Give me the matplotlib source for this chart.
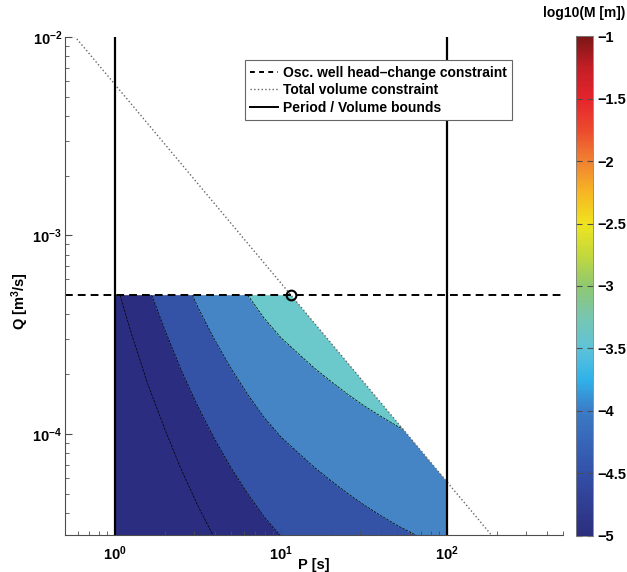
import numpy as np
import matplotlib
matplotlib.use('Agg')
import matplotlib.pyplot as plt
import matplotlib.transforms as mtransforms
from matplotlib.scale import InvertedLogTransform
from matplotlib.colors import LinearSegmentedColormap, Normalize
from matplotlib.cm import ScalarMappable
from matplotlib.patches import Polygon
from matplotlib.lines import Line2D
from matplotlib.ticker import LogLocator, FuncFormatter

plt.rcParams['font.family'] = ['Liberation Sans', 'DejaVu Sans']
plt.rcParams['font.weight'] = 'bold'
plt.rcParams['mathtext.fontset'] = 'custom'
plt.rcParams['mathtext.rm'] = 'Liberation Sans:bold'
plt.rcParams['mathtext.bf'] = 'Liberation Sans:bold'
plt.rcParams['mathtext.default'] = 'bf'

# constraints
P_min, P_max = 1.0, 100.0          # period bounds [s]
Q_max = 5e-4                       # osc. well head-change constraint [m3/s]
Q_low = 2e-5                       # lower edge of the computed field
V_tot = 5.75e-3                    # total volume constraint (P*Q) [m3]

# log10(M/Q) read along the period axis (M scales with Q)
P_nodes = [1, 1.26, 1.58, 2, 2.51, 3.16, 3.98, 5.01, 6.31, 7.94, 10,
           12.6, 15.8, 20, 25.1, 31.6, 39.8, 50.1, 63.1, 79.4, 100]
logM_per_Q = [-1.784, -1.502, -1.249, -1.023, -0.820, -0.638, -0.475, -0.329, -0.199, -0.082, 0.015,
              0.092, 0.166, 0.235, 0.298, 0.357, 0.410, 0.460, 0.504, 0.543, 0.577]

# contour levels and band colours
line_levels = [-5, -4.5, -4, -3.5]
fill_levels = [-9, -4.5, -4, -3.5, 0]
band_colors = ['#2b2d80', '#3553a6', '#4585c5', '#6cc9cb']

# colour bar
cb_values = [-5, -4.5, -4, -3.75, -3.5, -3.25, -3, -2.75, -2.5, -2.25, -2, -1.75, -1.5, -1.25, -1]
cb_colors = ['#2c2e7e', '#3350a8', '#3b7cc7', '#30b2ea', '#5ec3d8', '#78c6b0', '#8fc870',
             '#c3d93c', '#f0e41e', '#f7b624', '#f08232', '#ec4b2e', '#e6242c', '#c41e26', '#7c1616']

fig = plt.figure(figsize=(6.27, 5.72), dpi=100)
ax = fig.add_axes([0.1037, 0.0647, 0.794, 0.871])
cax = fig.add_axes([0.9187, 0.063, 0.0271, 0.874])

ax.set_xscale('log')
ax.set_yscale('log')

# field computed on log10 coordinates, mapped back through the log scale
lx = np.log10(P_nodes)
ly = np.log10([Q_low, Q_max])
Z = ly[:, None] + np.array(logM_per_Q)[None, :]
inv = InvertedLogTransform(10)
tr = mtransforms.blended_transform_factory(inv, inv) + ax.transData

region = Polygon([(P_min, Q_low), (P_min, Q_max), (V_tot / Q_max, Q_max),
                  (P_max, V_tot / P_max), (P_max, Q_low)],
                 closed=True, transform=ax.transData, facecolor='none', edgecolor='none')

cf = ax.contourf(lx, ly, Z, levels=fill_levels, colors=band_colors, transform=tr)
cf.set_clip_path(region)
cl = ax.contour(lx, ly, Z, levels=line_levels, colors='k', linewidths=0.5, transform=tr)
cl.set_clip_path(region)

ax.set_xlim(0.5, 500)
ax.set_ylim(3.1e-5, 1e-2)

# constraint lines
P_line = np.array([0.5, 500])
ax.plot(P_line, V_tot / P_line, linestyle=':', color='0.4', lw=1.0)
ax.axhline(Q_max, color='k', linestyle='--', lw=1.4, dashes=(4, 2.6))
ax.plot([P_min, P_min], [3.1e-5, 1e-2], color='k', lw=1.6)
ax.plot([P_max, P_max], [3.1e-5, 1e-2], color='k', lw=1.6)
ax.plot(V_tot / Q_max, Q_max, 'o', mfc='none', mec='k', ms=7, mew=1.5, zorder=5)

handles = [Line2D([], [], color='k', linestyle='--', lw=1.4, dashes=(2.5, 2.2)),
           Line2D([], [], color='0.4', linestyle=':', lw=1.0),
           Line2D([], [], color='k', lw=1.4)]
labels = ['Osc. well head\u2013change constraint', 'Total volume constraint', 'Period / Volume bounds']
leg = ax.legend(handles, labels, loc='upper left', bbox_to_anchor=(0.361, 0.953),
                borderaxespad=0, fancybox=False, framealpha=1, edgecolor='0.4',
                prop={'weight': 'bold', 'size': 10}, handlelength=2.0,
                handletextpad=0.35, labelspacing=0.25, borderpad=0.4)
leg.get_frame().set_linewidth(0.8)

for s in ['top', 'right']:
    ax.spines[s].set_visible(False)
for s in ['left', 'bottom']:
    ax.spines[s].set_color('0.3')
    ax.spines[s].set_linewidth(0.8)

ax.xaxis.set_major_locator(LogLocator(base=10, numticks=10))
ax.yaxis.set_major_locator(LogLocator(base=10, numticks=10))
ax.xaxis.set_minor_locator(LogLocator(base=10, subs=np.arange(2, 10), numticks=20))
ax.yaxis.set_minor_locator(LogLocator(base=10, subs=np.arange(2, 10), numticks=20))
ax.tick_params(which='both', direction='in', colors='0.3', labelcolor='k', labelsize=10.5)
ax.tick_params(which='major', length=5, width=0.8)
ax.tick_params(which='minor', length=3, width=0.6)
ax.tick_params(axis='x', pad=7)
ax.tick_params(axis='y', pad=2)

ax.set_xlabel('P [s]', fontsize=10.5, fontweight='bold')
ax.xaxis.set_label_coords(0.5, -0.047)
ax.set_ylabel('Q [m$^3$/s]', fontsize=10.5, fontweight='bold')
ax.yaxis.set_label_coords(-0.068, 0.47)

# colour bar
cmap = LinearSegmentedColormap.from_list(
    'mcmap', [((v + 5) / 4, c) for v, c in zip(cb_values, cb_colors)])
sm = ScalarMappable(norm=Normalize(-5, -1), cmap=cmap)
cb = fig.colorbar(sm, cax=cax, ticks=np.arange(-5, -0.99, 0.5))
cb.ax.yaxis.set_major_formatter(FuncFormatter(lambda v, p: f'{v:g}'.replace('-', '\u2212')))
cb.ax.yaxis.set_ticks_position('both')
cb.ax.tick_params(direction='in', length=4, width=0.8, colors='0.3', labelcolor='k',
                  labelsize=10.5, labelleft=False, labelright=True, pad=3)
cb.outline.set_edgecolor('0.5')
cb.outline.set_linewidth(0.6)
cb.ax.set_title('log10(M [m])', fontsize=10, fontweight='bold', pad=14)

fig.savefig('out.png', dpi=100)
